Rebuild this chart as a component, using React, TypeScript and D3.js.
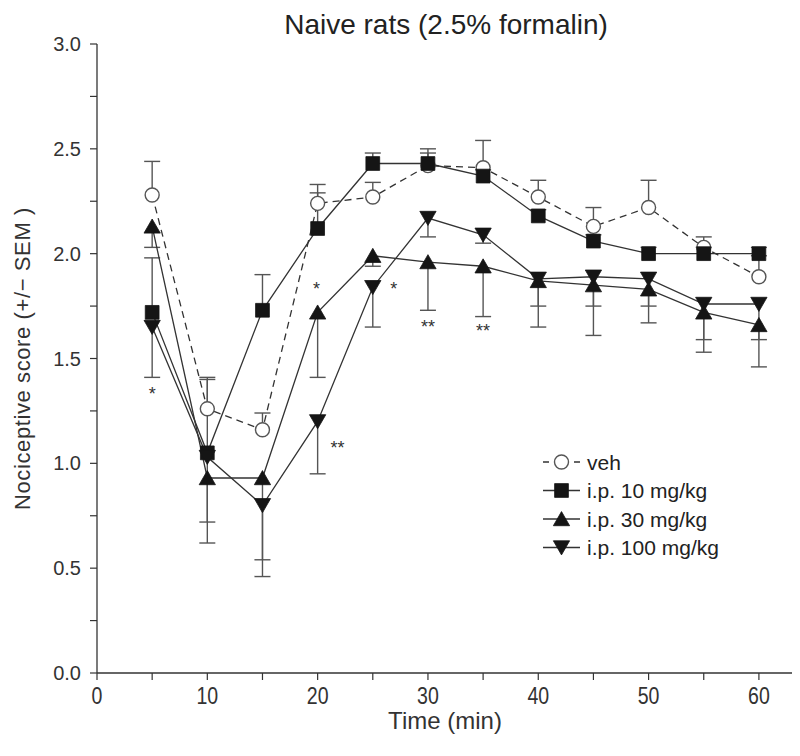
import React from "react";
import * as d3 from "d3";

// time points (min)
const times = [5, 10, 15, 20, 25, 30, 35, 40, 45, 50, 55, 60];

// mean nociceptive scores and SEM per group
const veh = [2.28, 1.26, 1.16, 2.24, 2.27, 2.42, 2.41, 2.27, 2.13, 2.22, 2.03, 1.89];
const vehErr = [0.16, 0.15, 0.08, 0.05, 0.07, 0.08, 0.13, 0.08, 0.09, 0.13, 0.05, 0.1];
const ip10 = [1.72, 1.05, 1.73, 2.12, 2.43, 2.43, 2.37, 2.18, 2.06, 2.0, 2.0, 2.0];
const ip10Err = [0.26, 0.35, 0.17, 0.21, 0.05, 0.05, 0.03, 0.03, 0.03, 0.03, 0.03, 0.03];
const ip30 = [2.13, 0.93, 0.93, 1.72, 1.99, 1.96, 1.94, 1.87, 1.85, 1.83, 1.72, 1.66];
const ip30Err = [0.1, 0.31, 0.39, 0.31, 0.05, 0.23, 0.24, 0.22, 0.24, 0.16, 0.19, 0.2];
const ip100 = [1.65, 1.03, 0.8, 1.2, 1.84, 2.17, 2.09, 1.88, 1.89, 1.88, 1.76, 1.76];
const ip100Err = [0.24, 0.31, 0.34, 0.25, 0.19, 0.09, 0.04, 0.13, 0.14, 0.13, 0.17, 0.17];

const seriesNames = ["veh", "i.p. 10 mg/kg", "i.p. 30 mg/kg", "i.p. 100 mg/kg"];

// significance marks (time, score, text)
const starTimes = [5, 19.9, 26.9, 21.8, 30, 35];
const starValues = [1.35, 1.85, 1.85, 1.09, 1.67, 1.65];
const starLabels = ["*", "*", "*", "**", "**", "**"];

const xTicks = [0, 10, 20, 30, 40, 50, 60];
const yTicks = [0, 0.5, 1.0, 1.5, 2.0, 2.5, 3.0];

const W = 800;
const H = 756;
const font = "'Liberation Sans', Arial, Helvetica, sans-serif";

const x = d3.scaleLinear().domain([0, 63]).range([97, 792]);
const y = d3.scaleLinear().domain([0, 3]).range([673, 44]);

const sym = {
  square: d3.symbol(d3.symbolSquare, 190)(),
  tri: d3.symbol(d3.symbolTriangle, 115)(),
};

const groups = [
  { name: seriesNames[0], vals: veh, err: vehErr, dir: 1, dash: "7,5", marker: "circle", rot: 0 },
  { name: seriesNames[1], vals: ip10, err: ip10Err, dir: 1, dash: null, marker: "square", rot: 0 },
  { name: seriesNames[2], vals: ip30, err: ip30Err, dir: -1, dash: null, marker: "tri", rot: 0 },
  { name: seriesNames[3], vals: ip100, err: ip100Err, dir: -1, dash: null, marker: "tri", rot: 180 },
];

function Marker({ kind, rot, cx, cy }: { kind: string; rot: number; cx: number; cy: number }) {
  if (kind === "circle") {
    return <circle cx={cx} cy={cy} r={7} fill="#fff" stroke="#555" strokeWidth={1.4} />;
  }
  const d = kind === "square" ? sym.square : sym.tri;
  const dy = kind === "tri" ? (rot ? -2 : 2) : 0;
  return (
    <path
      d={d}
      transform={`translate(${cx},${cy + dy}) rotate(${rot})`}
      fill="#151515"
      stroke="#151515"
      strokeWidth={0.8}
    />
  );
}

export default function App() {
  const line = d3
    .line<number>()
    .x((_, i) => x(times[i]))
    .y((v) => y(v));

  const minorY = d3.range(0, 3.01, 0.25);
  const minorX = d3.range(0, 61, 5);

  return (
    <svg width={W} height={H} style={{ position: "absolute", left: 0, top: 0, background: "#fff" }}>
      <text x={446} y={34} textAnchor="middle" fontFamily={font} fontSize={28} fill="#222">
        Naive rats (2.5% formalin)
      </text>

      {/* axes */}
      <line x1={x(0)} x2={x(0)} y1={y(3)} y2={y(0)} stroke="#333" strokeWidth={1.3} />
      <line x1={x(0)} x2={x(63)} y1={y(0)} y2={y(0)} stroke="#333" strokeWidth={1.3} />
      {minorY.map((v) => (
        <line key={"yt" + v} x1={x(0) - 7} x2={x(0)} y1={y(v)} y2={y(v)} stroke="#333" strokeWidth={1.2} />
      ))}
      {yTicks.map((v) => (
        <text key={"yl" + v} x={81} y={y(v) + 7} textAnchor="end" fontFamily={font} fontSize={20} fill="#333">
          {v.toFixed(1)}
        </text>
      ))}
      {minorX.map((v) => (
        <line key={"xt" + v} x1={x(v)} x2={x(v)} y1={y(0)} y2={y(0) + 7} stroke="#333" strokeWidth={1.2} />
      ))}
      {xTicks.map((v) => (
        <text
          key={"xl" + v}
          transform={`translate(${x(v)},704) scale(0.85,1)`}
          textAnchor="middle"
          fontFamily={font}
          fontSize={23}
          fill="#333"
        >
          {v}
        </text>
      ))}
      <text x={445} y={729} textAnchor="middle" fontFamily={font} fontSize={24} fill="#333">
        Time (min)
      </text>
      <text
        transform={`translate(30,${y(1.5)}) rotate(-90)`}
        textAnchor="middle"
        fontFamily={font}
        fontSize={22}
        letterSpacing={0.6}
        fill="#333"
      >
        Nociceptive score  (+/− SEM )
      </text>

      {/* error bars */}
      {groups.map((g) =>
        g.vals.map((v, i) => {
          const top = y(v + g.dir * g.err[i]);
          return (
            <g key={g.name + "e" + i} stroke="#555" strokeWidth={1.4}>
              <line x1={x(times[i])} x2={x(times[i])} y1={y(v)} y2={top} />
              <line x1={x(times[i]) - 8} x2={x(times[i]) + 8} y1={top} y2={top} />
            </g>
          );
        })
      )}

      {/* series lines */}
      {groups.map((g) => (
        <path
          key={g.name + "l"}
          d={line(g.vals) || ""}
          fill="none"
          stroke="#333"
          strokeWidth={1.3}
          strokeDasharray={g.dash || undefined}
        />
      ))}

      {/* markers */}
      {groups.map((g) =>
        g.vals.map((v, i) => (
          <Marker key={g.name + "m" + i} kind={g.marker} rot={g.rot} cx={x(times[i])} cy={y(v)} />
        ))
      )}

      {/* significance */}
      {starLabels.map((s, i) => (
        <text
          key={"s" + i}
          x={x(starTimes[i])}
          y={y(starValues[i]) + 10}
          textAnchor="middle"
          fontFamily={font}
          fontSize={18}
          fill="#333"
        >
          {s}
        </text>
      ))}

      {/* legend */}
      {groups.map((g, i) => {
        const ly = 462 + i * 28.5;
        return (
          <g key={g.name + "lg"}>
            <line
              x1={543}
              x2={580}
              y1={ly}
              y2={ly}
              stroke="#333"
              strokeWidth={1.3}
              strokeDasharray={g.dash ? "6,6,13,6,6" : undefined}
            />
            <Marker kind={g.marker} rot={g.rot} cx={561.5} cy={ly} />
            <text x={587} y={ly + 7.5} fontFamily={font} fontSize={21} fill="#222">
              {g.name}
            </text>
          </g>
        );
      })}
    </svg>
  );
}
